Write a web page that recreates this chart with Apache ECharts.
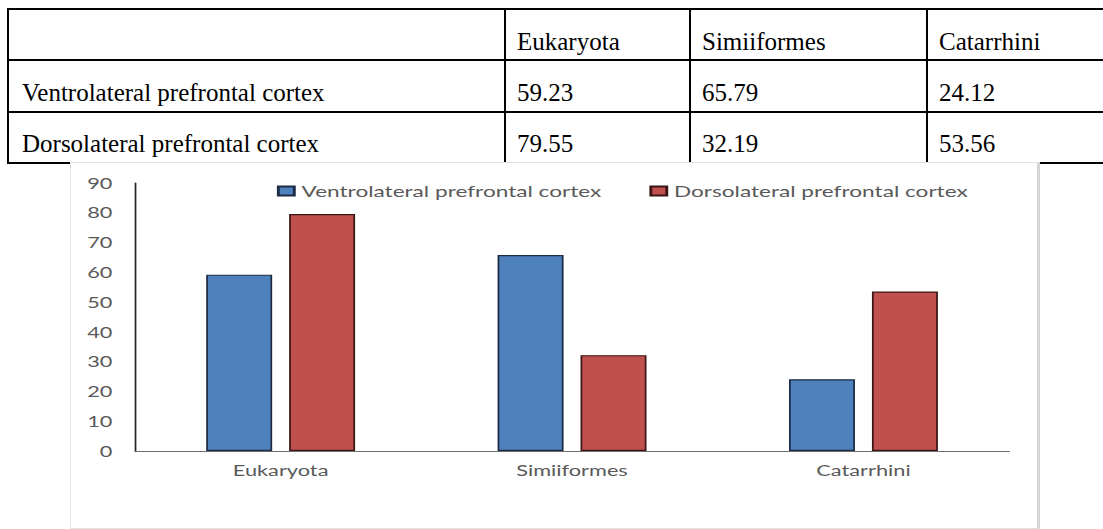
<!DOCTYPE html>
<html>
<head>
<meta charset="utf-8">
<title>Prefrontal cortex comparison</title>
<script src="https://cdn.jsdelivr.net/npm/echarts/dist/echarts.min.js"></script>
<style>
  html, body { margin: 0; padding: 0; background: #fff; }
  body { width: 1103px; height: 529px; overflow: hidden; position: relative; }
  #table { position: absolute; left: 0; top: 0; width: 1103px; height: 170px;
           font-family: "Liberation Serif", "Times New Roman", serif; font-size: 25px; color: #000; }
  #table .hline { position: absolute; height: 2px; background: #000; }
  #table .vline { position: absolute; width: 2px; background: #000; }
  #table .cell { position: absolute; line-height: 25px; white-space: nowrap; }
  #frame { position: absolute; left: 70px; top: 162px; width: 966px; height: 365px;
           border: 1px solid #e2e2e2; border-right: 3px solid #d5d5d5; background: #fff; }
  #chart { position: absolute; left: 71px; top: 163px; height: 365px;
           transform-origin: 0 0; }
</style>
</head>
<body>
<div id="table"></div>
<div id="frame"></div>
<div id="chart"></div>
<script>
// Values per region and clade
const categories = ['Eukaryota', 'Simiiformes', 'Catarrhini'];
const seriesNames = ['Ventrolateral prefrontal cortex', 'Dorsolateral prefrontal cortex'];
const ventrolateral = [59.23, 65.79, 24.12];
const dorsolateral = [79.55, 32.19, 53.56];
const yTicks = { min: 0, max: 90, interval: 10 };

// ---- data table above the chart ----
const table = document.getElementById('table');
const rowLines = [8, 59, 111, 162];       // horizontal rule positions
const colLines = [7, 504, 689, 926];      // vertical rule positions
const rightEdge = 1110;
const pad = 13;

rowLines.forEach(y => {
  const d = document.createElement('div');
  d.className = 'hline';
  d.style.left = colLines[0] + 'px';
  d.style.top = y + 'px';
  d.style.width = (rightEdge - colLines[0]) + 'px';
  table.appendChild(d);
});
colLines.forEach(x => {
  const d = document.createElement('div');
  d.className = 'vline';
  d.style.left = x + 'px';
  d.style.top = rowLines[0] + 'px';
  d.style.height = (rowLines[rowLines.length - 1] - rowLines[0] + 2) + 'px';
  table.appendChild(d);
});

const rows = [
  [''].concat(categories),
  [seriesNames[0]].concat(ventrolateral.map(v => v.toFixed(2))),
  [seriesNames[1]].concat(dorsolateral.map(v => v.toFixed(2)))
];
const baselines = [50, 101, 152];
rows.forEach((row, r) => {
  row.forEach((txt, c) => {
    if (!txt) return;
    const s = document.createElement('div');
    s.className = 'cell';
    s.textContent = txt;
    s.style.left = (colLines[c] + (c === 0 ? 15 : pad)) + 'px';
    s.style.top = (baselines[r] - 21) + 'px';
    table.appendChild(s);
  });
});

// ---- bar chart ----
// The chart is laid out in a narrower box and widened horizontally,
// giving the broad, stretched lettering of the original figure.
const stretch = 1.45;
const boxWidth = 968;
const el = document.getElementById('chart');
el.style.width = (boxWidth / stretch) + 'px';
el.style.transform = 'scaleX(' + stretch + ')';

const font = 'Lato, "Open Sans", sans-serif';
const textGray = '#595959';

const chart = echarts.init(el, null, { renderer: 'svg' });
chart.setOption({
  animation: false,
  backgroundColor: 'transparent',
  grid: { left: 44.1, right: 21, top: 20, bottom: 77 },
  legend: {
    left: 142,
    top: 20,
    padding: 0,
    icon: 'rect',
    itemWidth: 11,
    itemHeight: 9,
    itemGap: 33,
    textStyle: { color: textGray, fontSize: 15.6, fontFamily: font },
    data: seriesNames
  },
  xAxis: {
    type: 'category',
    data: categories,
    axisLine: { lineStyle: { color: '#6e6e6e', width: 1 } },
    axisTick: { show: false },
    axisLabel: { color: textGray, fontSize: 15, fontFamily: font, margin: 12 }
  },
  yAxis: {
    type: 'value',
    min: yTicks.min,
    max: yTicks.max,
    interval: yTicks.interval,
    axisLine: { show: true, lineStyle: { color: '#262626', width: 1.2 } },
    axisTick: { show: false },
    splitLine: { show: false },
    axisLabel: { color: textGray, fontSize: 15, fontFamily: font, margin: 15.5 }
  },
  series: [
    {
      name: seriesNames[0],
      type: 'bar',
      data: ventrolateral,
      barWidth: 45.5,
      barGap: '25.7%',
      itemStyle: { color: '#4f81bd', borderColor: '#1d2b45', borderWidth: 1.2 }
    },
    {
      name: seriesNames[1],
      type: 'bar',
      data: dorsolateral,
      barWidth: 45.5,
      barGap: '25.7%',
      itemStyle: { color: '#c0504d', borderColor: '#3a1616', borderWidth: 1.2 }
    }
  ]
});
</script>
</body>
</html>
